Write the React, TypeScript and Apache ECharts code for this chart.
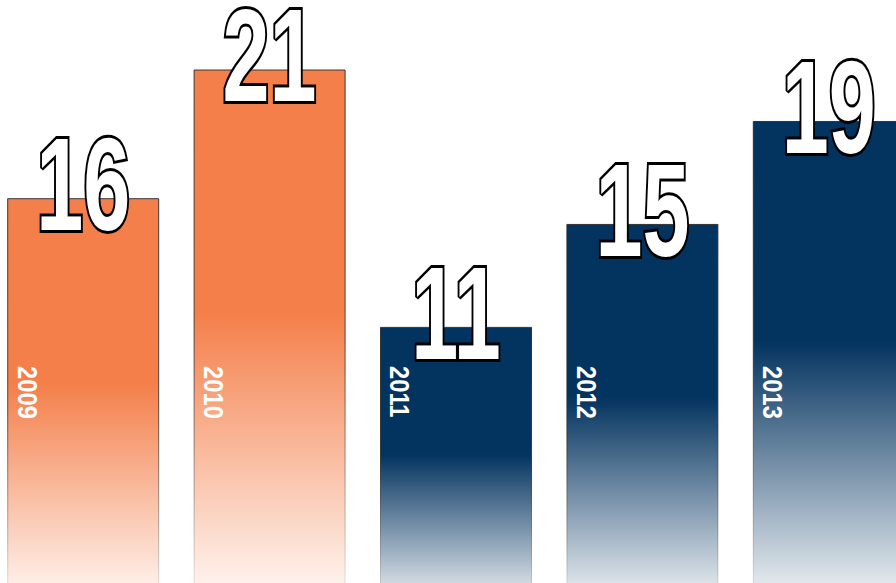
import React, { useEffect, useRef } from "react";
import * as echarts from "echarts";

const years = ["2009", "2010", "2011", "2012", "2013"];
const values = [16, 21, 11, 15, 19];
const palette = ["#F47F4A", "#F47F4A", "#03335F", "#03335F", "#03335F"];

function hexToRgba(hex: string, a: number) {
  const n = parseInt(hex.slice(1), 16);
  return `rgba(${(n >> 16) & 255},${(n >> 8) & 255},${n & 255},${a})`;
}

export default function App() {
  const ref = useRef<HTMLDivElement>(null);
  useEffect(() => {
    if (!ref.current) return;
    const chart = echarts.init(ref.current, undefined, { renderer: "svg" });
    const barData = values.map((v, i) => ({
      value: v,
      itemStyle: {
        color: new echarts.graphic.LinearGradient(0, 0, 0, 1, [
          { offset: 0, color: palette[i] },
          { offset: 0.45, color: palette[i] },
          { offset: 1, color: hexToRgba(palette[i], 0.02) },
        ]),
        borderColor: new echarts.graphic.LinearGradient(0, 0, 0, 1, [
          { offset: 0, color: "rgba(40,40,40,0.9)" },
          { offset: 0.5, color: "rgba(40,40,40,0.8)" },
          { offset: 1, color: "rgba(40,40,40,0.05)" },
        ]),
        borderWidth: 1,
      },
    }));
    chart.setOption({
      animation: false,
      backgroundColor: "#ffffff",
      grid: { left: 0, right: 0, top: 69.5, bottom: 0, containLabel: false },
      xAxis: {
        type: "category",
        data: years,
        axisLine: { show: false },
        axisTick: { show: false },
        axisLabel: { show: false },
        splitLine: { show: false },
      },
      yAxis: {
        type: "value",
        min: 0,
        max: 21,
        show: false,
        splitLine: { show: false },
      },
      series: [
        {
          type: "bar",
          data: barData,
          barWidth: 152,
          z: 2,
        },
        {
          type: "custom",
          z: 10,
          data: values.map((v, i) => [i, v]),
          encode: { x: 0, y: 1 },
          renderItem: (params: any, api: any) => {
            const idx = api.value(0);
            const v = api.value(1);
            const top = api.coord([idx, v]);
            const cx = top[0];
            return {
              type: "group",
              children: [
                {
                  type: "text",
                  x: cx,
                  y: top[1] - 14,
                  scaleX: 0.64,
                  style: {
                    text: String(values[idx]),
                    fill: "#ffffff",
                    stroke: "#000000",
                    lineWidth: 6,
                    strokeFirst: true,
                    font: "bold 132px 'Liberation Sans', Arial, sans-serif",
                    lineHeight: 100,
                    align: "center",
                    verticalAlign: "middle",
                  },
                },
                {
                  type: "text",
                  x: cx - 56,
                  y: 366,
                  rotation: -Math.PI / 2,
                  scaleX: 0.85,
                  style: {
                    text: years[idx],
                    fill: "#ffffff",
                    font: "bold 28px 'Liberation Sans', Arial, sans-serif",
                    align: "left",
                    verticalAlign: "middle",
                  },
                },
              ],
            };
          },
        },
      ],
    });
    return () => chart.dispose();
  }, []);
  return (
    <div
      style={{
        position: "absolute",
        left: 0,
        top: 0,
        width: 896,
        height: 583,
        overflow: "hidden",
        background: "#ffffff",
      }}
    >
      <div
        ref={ref}
        style={{ position: "absolute", left: -10, top: 0, width: 931.5, height: 610 }}
      />
    </div>
  );
}
